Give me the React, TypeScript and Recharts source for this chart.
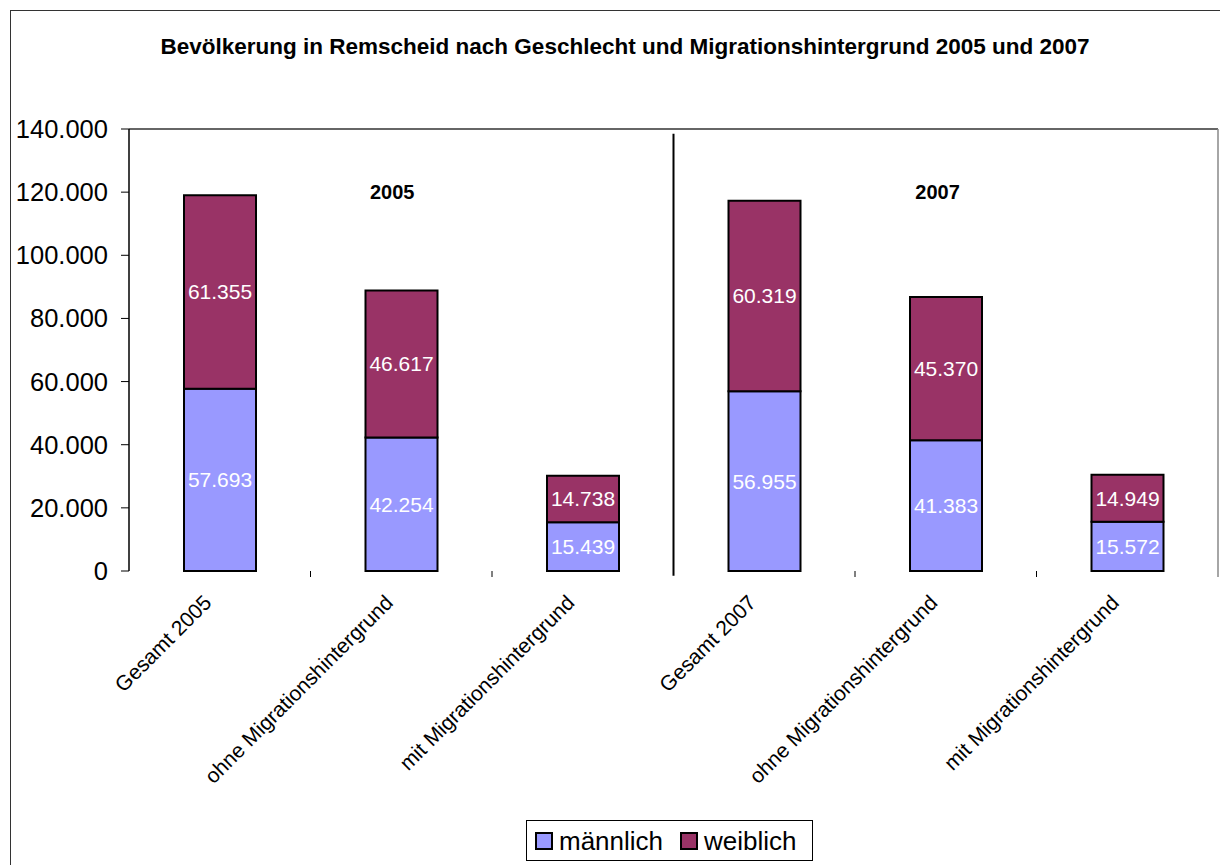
import React from 'react';
import { BarChart, Bar, XAxis, YAxis, ReferenceLine, ReferenceDot, LabelList, Legend } from 'recharts';

const categories = [
  'Gesamt 2005',
  'ohne Migrationshintergrund',
  'mit Migrationshintergrund',
  'Gesamt 2007',
  'ohne Migrationshintergrund',
  'mit Migrationshintergrund',
];
const maleValues = [57693, 42254, 15439, 56955, 41383, 15572];
const femaleValues = [61355, 46617, 14738, 60319, 45370, 14949];
const yTicks = [0, 20000, 40000, 60000, 80000, 100000, 120000, 140000];
const boundaryTicks = [0, 1, 2, 3, 4, 5, 6];
const seriesNames = ['männlich', 'weiblich'];
const seriesColors = ['#9999FF', '#993366'];
const yearLabels = ['2005', '2007'];
const title = 'Bevölkerung in Remscheid nach Geschlecht und Migrationshintergrund 2005 und 2007';

const data = categories.map((name, i) => ({ name, pos: i + 0.5, male: maleValues[i], female: femaleValues[i] }));

const FONT = '"Liberation Sans", Arial, Helvetica, sans-serif';
const fmt = (v: any) => String(v).replace(/\B(?=(\d{3})+(?!\d))/g, '.');

const XTick = (props: any) => {
  const { x, y, payload, index } = props;
  const half = payload && typeof payload.offset === 'number' ? payload.offset : 0;
  const ax = x - 7;
  const ay = y + 33;
  return (
    <g>
      {half > 0 && index > 0 && index !== 3 && (
        <line x1={x - half} x2={x - half} y1={y} y2={y + 6} stroke="#000" strokeWidth={1} />
      )}
      {half > 0 && index === categories.length - 1 && (
        <line x1={x + half} x2={x + half} y1={y} y2={y + 6} stroke="#888" strokeWidth={1.5} />
      )}
      <text
        x={ax}
        y={ay}
        transform={`rotate(-45, ${ax}, ${ay})`}
        textAnchor="end"
        fontSize={21}
        fontFamily={FONT}
        fill="#000"
      >
        {payload.value}
      </text>
    </g>
  );
};

const EmptyTick = () => <g />;

const LegendContent = () => (
  <div
    style={{
      boxSizing: 'border-box',
      height: 41,
      width: 287,
      border: '1px solid #000',
      display: 'flex',
      alignItems: 'center',
      paddingLeft: 8,
      fontFamily: FONT,
      fontSize: 26,
      color: '#000',
      background: '#fff',
    }}
  >
    {seriesNames.map((n, i) => (
      <div key={n} style={{ display: 'flex', alignItems: 'center', marginRight: i === 0 ? 17 : 0 }}>
        <div
          style={{
            boxSizing: 'border-box',
            width: 18,
            height: 18,
            border: '2px solid #000',
            background: seriesColors[i],
            marginRight: 6,
          }}
        />
        <span style={{ lineHeight: '30px' }}>{n}</span>
      </div>
    ))}
  </div>
);

const YearLabel = (props: any) => {
  const { viewBox, value } = props;
  const cx = viewBox.x + (viewBox.width || 0) / 2;
  const cy = viewBox.y + (viewBox.height || 0) / 2;
  return (
    <text x={cx} y={cy} textAnchor="middle" dominantBaseline="central" fontSize={20} fontWeight="bold" fontFamily={FONT} fill="#000">
      {value}
    </text>
  );
};

export default function App() {
  return (
    <div style={{ position: 'relative', width: 1220, height: 857, overflow: 'hidden', background: '#fff' }}>
      <div
        style={{
          position: 'absolute',
          left: 2,
          top: 2,
          width: 1400,
          height: 1000,
          border: '1.5px solid #333',
          boxSizing: 'border-box',
        }}
      />
      <div
        style={{
          position: 'absolute',
          left: 0,
          width: 1234,
          top: 26,
          textAlign: 'center',
          fontFamily: FONT,
          fontWeight: 'bold',
          fontSize: 22.5,
          color: '#000',
        }}
      >
        {title}
      </div>
      <div style={{ position: 'absolute', left: 0, top: 0 }}>
        <BarChart
          width={1220}
          height={857}
          data={data}
          margin={{ top: 121, right: 10, bottom: 4, left: 0 }}
          barCategoryGap={0}
        >
          <XAxis
            xAxisId="grid"
            dataKey="pos"
            type="number"
            domain={[0, 6]}
            ticks={boundaryTicks}
            height={0}
            tick={<EmptyTick />}
            tickSize={6}
            axisLine={{ stroke: '#000', strokeWidth: 1.5 }}
            tickLine={{ stroke: '#000', strokeWidth: 1 }}
            allowDataOverflow
            interval={0}
          />
          <XAxis
            dataKey="name"
            height={249}
            interval={0}
            axisLine={false}
            tickLine={false}
            tickSize={0}
            tickMargin={0}
            tick={<XTick />}
          />
          <YAxis
            width={121}
            domain={[0, 140000]}
            ticks={yTicks}
            tickFormatter={fmt}
            tickSize={8}
            tickMargin={13}
            axisLine={{ stroke: '#000', strokeWidth: 1.5 }}
            tickLine={{ stroke: '#000' }}
            tick={{ fontSize: 25.5, fontFamily: FONT, fill: '#000' }}
            interval={0}
          />
          <Legend
            verticalAlign="bottom"
            content={<LegendContent />}
            wrapperStyle={{ left: 518, width: 287, height: 41, bottom: 4 }}
          />
          <ReferenceLine y={140000} stroke="#333" strokeWidth={1.5} />
          <ReferenceLine xAxisId="grid" x={6} stroke="#888" strokeWidth={1.5} />
          <ReferenceLine
            xAxisId="grid"
            segment={[{ x: 3, y: 138500 }, { x: 3, y: -1500 }]}
            stroke="#000"
            strokeWidth={2}
            ifOverflow="visible"
          />
          <Bar dataKey="male" name={seriesNames[0]} stackId="a" fill={seriesColors[0]} stroke="#000" strokeWidth={2} barSize={72} isAnimationActive={false}>
            <LabelList dataKey="male" position="center" formatter={fmt} fill="#fff" fontSize={21} fontFamily={FONT} />
          </Bar>
          <Bar dataKey="female" name={seriesNames[1]} stackId="a" fill={seriesColors[1]} stroke="#000" strokeWidth={2} barSize={72} isAnimationActive={false}>
            <LabelList dataKey="female" position="center" formatter={fmt} fill="#fff" fontSize={21} fontFamily={FONT} />
          </Bar>
          <ReferenceDot xAxisId="grid" x={1.45} y={120000} r={0} stroke="none" label={<YearLabel value={yearLabels[0]} />} />
          <ReferenceDot xAxisId="grid" x={4.455} y={120000} r={0} stroke="none" label={<YearLabel value={yearLabels[1]} />} />
        </BarChart>
      </div>
    </div>
  );
}
